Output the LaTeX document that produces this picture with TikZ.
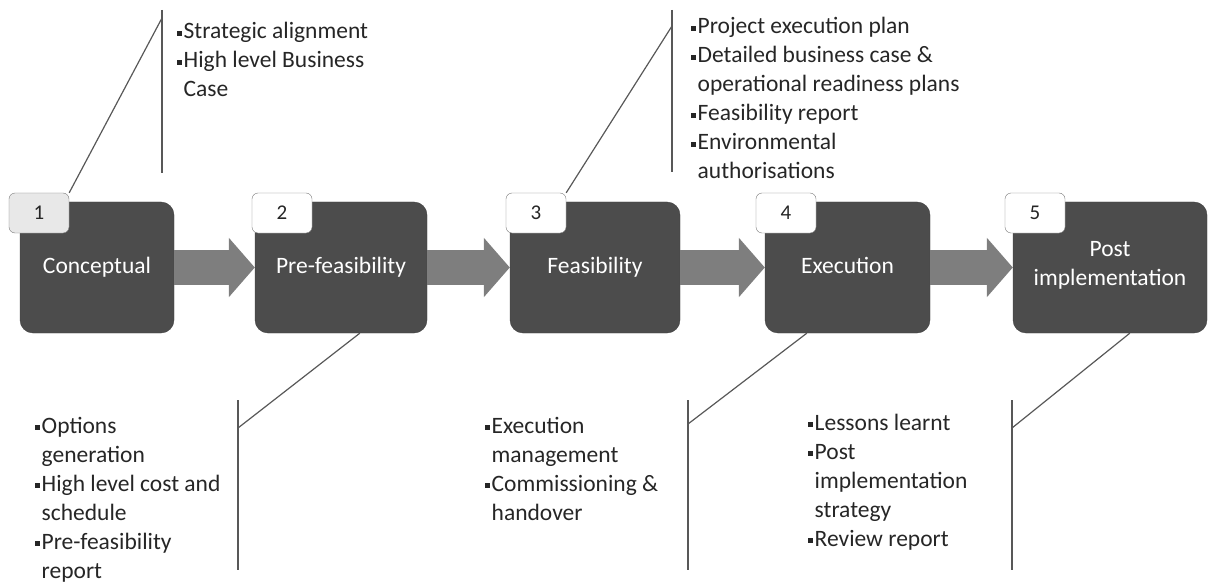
\documentclass[tikz,border=0pt]{standalone}
\usepackage{fontspec}
\setmainfont{Carlito}
\usetikzlibrary{arrows.meta,calc}

\definecolor{phasegray}{HTML}{4C4C4C}
\definecolor{arrowgray}{HTML}{7E7E7E}
\definecolor{linegray}{HTML}{585858}
\definecolor{tabline}{HTML}{7A7A7A}

% small square bullet
\newcommand\bx{\raisebox{.3ex}{\rule{4.5pt}{4.5pt}}}

\tikzset{
  phase/.style={draw=phasegray!85!black, fill=phasegray, rounded corners=13pt,
    minimum height=131pt, text=white, align=center, inner sep=0pt,
    execute at begin node=\strut},
  numtab/.style={draw=tabline, fill=white, rounded corners=6pt, minimum width=60pt,
    minimum height=40pt, inner sep=0pt, text=black!85, font=\fontsize{21}{24}\selectfont},
  flow/.style={draw=arrowgray, line width=35pt, -{Triangle[length=26pt,width=58pt]}},
  callout/.style={draw=linegray, line width=1.2pt},
  notes/.style={inner sep=0pt, anchor=base west, text=black!85}
}

\begin{document}
\begin{tikzpicture}[x=1pt,y=-1pt,font=\fontsize{23.5}{29}\selectfont]
\useasboundingbox (0,0) rectangle (1220,588);

%Phase boxes
\foreach \n/\x/\w/\t in {1/97/154/Conceptual, 2/341/172/Pre-feasibility,
    3/595/170/Feasibility, 4/847.5/165/Execution}
  \node[phase, minimum width=\w pt] (b\n) at (\x,267.5) {\t};
\node[phase, minimum width=194pt, execute at begin node={}] (b5) at (1110,267.5)
  {Post\\implementation};

%Arrows between phases
\foreach \a/\b in {1/2, 2/3, 3/4, 4/5}
  \draw[flow] (b\a.east) -- (b\b.west);

%Number tabs
\node[numtab, fill=black!9] (t1) at (39,213) {1};
\foreach \n/\x in {2/282, 3/536, 4/786, 5/1035}
  \node[numtab] (t\n) at (\x,213) {\n};

%Callout lines, top
\coordinate (k1) at (162,18);
\coordinate (k3) at (672,26);
\draw[callout] (t1.north east) -- (k1);
\draw[callout] ($(k1)+(0,-8)$) -- ($(k1)+(0,155)$);
\draw[callout] (t3.north east) -- (k3);
\draw[callout] ($(k3)+(0,-16)$) -- ($(k3)+(0,146)$);

%Callout lines, bottom
\coordinate (s2) at ($(b2.south west)+(105,0)$);
\coordinate (s4) at ($(b4.south west)+(42,0)$);
\coordinate (s5) at ($(b5.south west)+(117,0)$);
\coordinate (k2) at (238,428);
\coordinate (k4) at (688,424);
\coordinate (k5) at (1012,428);
\foreach \n in {2,4,5}{
  \draw[callout] (s\n) -- (k\n);
  \draw[callout] (k\n |- 0,400) -- (k\n |- 0,570);
}

%Notes
\node[notes] (n1) at (177,39) {\begin{tabular}[t]{@{}c@{\hspace{2pt}}l@{}}
  \bx & Strategic alignment\\
  \bx & High level Business\\
      & Case
  \end{tabular}};
\node[notes] (n3) at (691,34) {\begin{tabular}[t]{@{}c@{\hspace{2pt}}l@{}}
  \bx & Project execution plan\\
  \bx & Detailed business case \&\\
      & operational readiness plans\\
  \bx & Feasibility report\\
  \bx & Environmental\\
      & authorisations
  \end{tabular}};
\node[notes] (n2) at (35,433) {\begin{tabular}[t]{@{}c@{\hspace{2pt}}l@{}}
  \bx & Options\\
      & generation\\
  \bx & High level cost and\\
      & schedule\\
  \bx & Pre-feasibility\\
      & report
  \end{tabular}};
\node[notes] (n4) at (485,433) {\begin{tabular}[t]{@{}c@{\hspace{2pt}}l@{}}
  \bx & Execution\\
      & management\\
  \bx & Commissioning \&\\
      & handover
  \end{tabular}};
\node[notes] (n5) at (808,430) {\begin{tabular}[t]{@{}c@{\hspace{2pt}}l@{}}
  \bx & Lessons learnt\\
  \bx & Post\\
      & implementation\\
      & strategy\\
  \bx & Review report
  \end{tabular}};
\end{tikzpicture}
\end{document}
